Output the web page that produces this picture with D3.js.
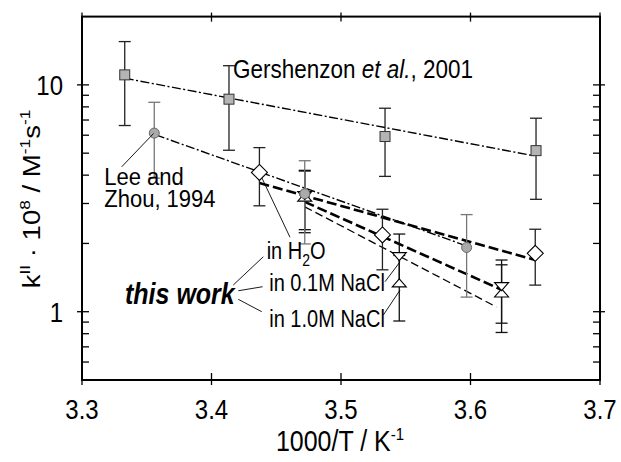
<!DOCTYPE html>
<html>
<head>
<meta charset="utf-8">
<script src="https://cdn.jsdelivr.net/npm/d3@7"></script>
<style>
  body { margin: 0; background: #fff; }
  svg { display: block; font-family: "Liberation Sans", Arial, sans-serif; }
</style>
</head>
<body>
<svg id="chart" width="621" height="462"></svg>
<script>
// data: x = 1000/T (K^-1), k = kII * 1e8 (M^-1 s^-1)
var gersX = [3.333, 3.4135, 3.534, 3.6506],
    gersK = [11.07, 8.65, 5.92, 5.13],
    gersErr = [4.45, 3.5, 1.97, 2.0];

var leeX = [3.3558, 3.472, 3.597],
    leeK = [6.13, 3.31, 1.92],
    leeErr = [2.25, 1.32, 0.76];

var h2oX = [3.437, 3.532, 3.65],
    h2oK = [4.11, 2.18, 1.81],
    h2oErr = [1.18, 0.65, 0.5];

var nacl01X = [3.472, 3.545, 3.624],
    nacl01K = [3.25, 1.75, 1.29],
    nacl01Err = [0.95, 0.45, 0.4];

var nacl10X = [3.472, 3.545, 3.624],
    nacl10K = [3.2, 1.34, 1.21],
    nacl10Err = [0.97, 0.43, 0.4];

// fitted lines (end points)
var gersFitX = [3.333, 3.649],  gersFitK = [10.7, 4.87];
var leeFitX = [3.357, 3.597],   leeFitK = [6.02, 1.95];
var h2oFitX = [3.437, 3.65],    h2oFitK = [3.69, 1.69];
var nacl01FitX = [3.472, 3.624], nacl01FitK = [3.05, 1.25];
var nacl10FitX = [3.472, 3.62],  nacl10FitK = [2.9, 1.05];

var xTicks = [3.3, 3.4, 3.5, 3.6, 3.7];
var yMajor = [1, 10];
var yMinor = [0.5, 0.6, 0.7, 0.8, 0.9, 2, 3, 4, 5, 6, 7, 8, 9];

var svg = d3.select("#chart");
var pLeft = 82, pRight = 600, pTop = 16.6, pBottom = 380;
var stretch = 1.15; // text in the original is a bit tall

var x = d3.scaleLinear().domain([3.3, 3.7]).range([pLeft, pRight]);
var y = d3.scaleLog().domain([0.5, 20]).range([pBottom, pTop]);

var zip = function(xs, ks, es) {
  return xs.map(function(v, i) { return {x: v, k: ks[i], e: es ? es[i] : 0}; });
};

function txt(px, py, size, sy) {
  return svg.append("text")
      .attr("transform", "translate(" + px + "," + py + ") scale(1," + (sy || stretch) + ")")
      .attr("font-size", size);
}

var line = d3.line().x(function(d) { return x(d.x); }).y(function(d) { return y(d.k); });

// fit lines
var fits = [
  {d: zip(gersFitX, gersFitK), w: 1.4, dash: "9,2.5,2,2.5"},
  {d: zip(leeFitX, leeFitK), w: 1.4, dash: "9,2.5,2,2.5"},
  {d: zip(h2oFitX, h2oFitK), w: 2.6, dash: "10,4"},
  {d: zip(nacl01FitX, nacl01FitK), w: 2.6, dash: "10,4"},
  {d: zip(nacl10FitX, nacl10FitK), w: 1.3, dash: "8,4"}
];
svg.selectAll("path.fit").data(fits).enter().append("path")
    .attr("class", "fit")
    .attr("d", function(f) { return line(f.d); })
    .attr("fill", "none")
    .attr("stroke", "#000")
    .attr("stroke-width", function(f) { return f.w; })
    .attr("stroke-dasharray", function(f) { return f.dash; });

// error bars
function errBars(data, color) {
  var g = svg.append("g").attr("stroke", color).attr("stroke-width", 1.3).attr("fill", "none");
  data.forEach(function(d) {
    var cx = x(d.x), y1 = y(d.k + d.e), y0 = y(d.k - d.e);
    g.append("line").attr("x1", cx).attr("x2", cx).attr("y1", y1).attr("y2", y0);
    g.append("line").attr("x1", cx - 6).attr("x2", cx + 6).attr("y1", y1).attr("y2", y1);
    g.append("line").attr("x1", cx - 6).attr("x2", cx + 6).attr("y1", y0).attr("y2", y0);
  });
}
var gers = zip(gersX, gersK, gersErr),
    lee = zip(leeX, leeK, leeErr),
    h2o = zip(h2oX, h2oK, h2oErr),
    n01 = zip(nacl01X, nacl01K, nacl01Err),
    n10 = zip(nacl10X, nacl10K, nacl10Err);

errBars(gers, "#222");
errBars(h2o, "#222");
errBars(n01, "#111");
errBars(n10, "#111");
errBars(lee, "#777");

// markers
svg.selectAll("rect.gers").data(gers).enter().append("rect")
    .attr("x", function(d) { return x(d.x) - 5; })
    .attr("y", function(d) { return y(d.k) - 5; })
    .attr("width", 10).attr("height", 10)
    .attr("fill", "#b4b4b4").attr("stroke", "#333").attr("stroke-width", 1);

svg.selectAll("circle.lee").data(lee).enter().append("circle")
    .attr("cx", function(d) { return x(d.x); })
    .attr("cy", function(d) { return y(d.k); })
    .attr("r", 5)
    .attr("fill", "#aaa").attr("stroke", "#666").attr("stroke-width", 1);

svg.selectAll("path.h2o").data(h2o).enter().append("path")
    .attr("d", function(d) {
      var cx = x(d.x), cy = y(d.k), r = 8;
      return "M" + cx + "," + (cy - r) + "L" + (cx + r) + "," + cy + "L" + cx + "," + (cy + r) + "L" + (cx - r) + "," + cy + "Z";
    })
    .attr("fill", "#fff").attr("stroke", "#000").attr("stroke-width", 1.1);

function tri(d, down) {
  var cx = x(d.x), cy = y(d.k), w = 7, h = 8;
  var s = down ? 1 : -1;
  return "M" + (cx - w) + "," + (cy - s * h / 2) + "L" + (cx + w) + "," + (cy - s * h / 2) +
         "L" + cx + "," + (cy + s * h / 2) + "Z";
}
svg.selectAll("path.n10").data(n10).enter().append("path")
    .attr("d", function(d) { return tri(d, false); })
    .attr("fill", "#fff").attr("stroke", "#000").attr("stroke-width", 1.1);
svg.selectAll("path.n01").data(n01).enter().append("path")
    .attr("d", function(d) { return tri(d, true); })
    .attr("fill", "#fff").attr("stroke", "#000").attr("stroke-width", 1.1);

// the circle at 3.47 sits on top of the triangles
svg.append("circle").datum(lee[1])
    .attr("cx", function(d) { return x(d.x); })
    .attr("cy", function(d) { return y(d.k); })
    .attr("r", 5)
    .attr("fill", "#aaa").attr("stroke", "#666").attr("stroke-width", 1);

// frame + ticks
var ax = svg.append("g").attr("stroke", "#000").attr("fill", "none");
ax.append("rect").attr("x", pLeft).attr("y", pTop)
    .attr("width", pRight - pLeft).attr("height", pBottom - pTop)
    .attr("stroke-width", 2);

xTicks.forEach(function(t) {
  var px = x(t);
  ax.append("line").attr("x1", px).attr("x2", px).attr("y1", pBottom + 5).attr("y2", pBottom - 7).attr("stroke-width", 1.3);
  ax.append("line").attr("x1", px).attr("x2", px).attr("y1", pTop - 4).attr("y2", pTop + 5).attr("stroke-width", 1.3);
});
yMajor.forEach(function(t) {
  var py = y(t);
  ax.append("line").attr("x1", pLeft - 5).attr("x2", pLeft + 7).attr("y1", py).attr("y2", py).attr("stroke-width", 1.3);
  ax.append("line").attr("x1", pRight - 7).attr("x2", pRight + 5).attr("y1", py).attr("y2", py).attr("stroke-width", 1.3);
});
yMinor.forEach(function(t) {
  var py = y(t);
  ax.append("line").attr("x1", pLeft).attr("x2", pLeft + 7).attr("y1", py).attr("y2", py).attr("stroke-width", 1.3);
  ax.append("line").attr("x1", pRight - 7).attr("x2", pRight).attr("y1", py).attr("y2", py).attr("stroke-width", 1.3);
});

// tick labels
xTicks.forEach(function(t) {
  txt(x(t), 419, 24).attr("text-anchor", "middle").text(t.toFixed(1));
});
yMajor.forEach(function(t) {
  txt(63, y(t) + 10, 24).attr("text-anchor", "end").text(t);
});

// axis titles
var xt = txt(340, 451, 25).attr("text-anchor", "middle");
xt.append("tspan").text("1000/T / K");
xt.append("tspan").attr("dy", -10).attr("font-size", 15).text("-1");

var yt = svg.append("text")
    .attr("transform", "translate(40,199) scale(1," + stretch + ") rotate(-90)")
    .attr("text-anchor", "middle").attr("font-size", 24);
yt.append("tspan").text("k");
yt.append("tspan").attr("dy", -10).attr("font-size", 15).text("II");
yt.append("tspan").attr("dy", 10).text(" \u00b7 10");
yt.append("tspan").attr("dy", -10).attr("font-size", 15).text("8");
yt.append("tspan").attr("dy", 10).text("  / M");
yt.append("tspan").attr("dy", -10).attr("font-size", 15).text("-1");
yt.append("tspan").attr("dy", 10).text("s");
yt.append("tspan").attr("dy", -10).attr("font-size", 15).text("-1");

// annotations, positioned in data units
var leaders = [
  [[3.3306, 4.35], [3.3553, 6.11]],
  [[3.4606, 2.13], [3.439, 3.88]],
  [[3.534, 1.356], [3.5456, 1.66]],
  [[3.5327, 0.967], [3.5456, 1.246]],
  [[3.4168, 1.311], [3.44, 1.747]],
  [[3.4207, 1.237], [3.4395, 1.289]],
  [[3.4207, 1.134], [3.4388, 1.0]]
];
svg.selectAll("line.lead").data(leaders).enter().append("line")
    .attr("x1", function(d) { return x(d[0][0]); })
    .attr("y1", function(d) { return y(d[0][1]); })
    .attr("x2", function(d) { return x(d[1][0]); })
    .attr("y2", function(d) { return y(d[1][1]); })
    .attr("stroke", "#000").attr("stroke-width", 0.9);

var g1 = txt(x(3.4166), y(10.7), 22.5);
g1.append("tspan").text("Gershenzon ");
g1.append("tspan").attr("font-style", "italic").text("et al.");
g1.append("tspan").text(", 2001");

txt(x(3.3172), y(3.61), 22, 1.05).text("Lee and");
txt(x(3.3172), y(2.90), 22, 1.05).text("Zhou, 1994");

var h = txt(x(3.4426), y(1.70), 20);
h.append("tspan").text("in H");
h.append("tspan").attr("dy", 6).attr("font-size", 14).text("2");
h.append("tspan").attr("dy", -6).text("O");

txt(x(3.4446), y(1.237), 20).text("in 0.1M NaCl");
txt(x(3.4446), y(0.859), 20).text("in 1.0M NaCl");

txt(x(3.3332), y(1.081), 25)
    .attr("font-weight", "bold").attr("font-style", "italic")
    .text("this work");
</script>
</body>
</html>
